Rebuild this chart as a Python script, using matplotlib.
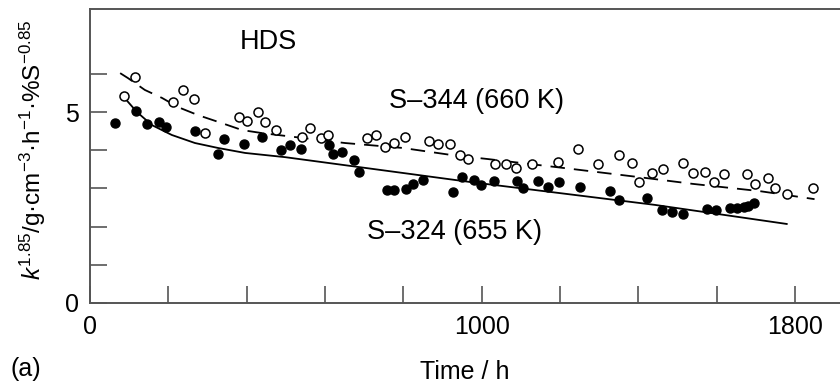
import matplotlib
matplotlib.use("Agg")
import matplotlib.pyplot as plt

plt.rcParams['font.family'] = ['Liberation Sans', 'DejaVu Sans']
plt.rcParams['mathtext.fontset'] = 'custom'
plt.rcParams['mathtext.rm'] = 'Liberation Sans'
plt.rcParams['mathtext.it'] = 'Liberation Sans:italic'

# S-324 (655 K), filled circles
s324_time = [64, 117, 146, 176, 194, 268, 327, 342, 393, 439, 488, 511, 539,
             610, 620, 643, 674, 687, 758, 776, 807, 825, 850, 927, 950, 980,
             998, 1031, 1090, 1105, 1144, 1169, 1197, 1251, 1328, 1351, 1422,
             1460, 1486, 1514, 1575, 1598, 1634, 1652, 1670, 1680, 1695]
s324_k = [4.71, 5.03, 4.69, 4.74, 4.61, 4.50, 3.90, 4.29, 4.16, 4.35, 4.01,
          4.14, 4.03, 4.14, 3.90, 3.95, 3.74, 3.43, 2.96, 2.96, 2.98, 3.12,
          3.22, 2.91, 3.30, 3.22, 3.09, 3.19, 3.19, 3.01, 3.19, 3.04, 3.17,
          3.04, 2.93, 2.70, 2.75, 2.43, 2.38, 2.33, 2.46, 2.43, 2.49, 2.49,
          2.51, 2.54, 2.62]

# S-344 (660 K), open circles
s344_time = [87, 115, 212, 237, 266, 294, 380, 401, 429, 447, 475, 541, 562,
             590, 608, 707, 730, 753, 776, 804, 865, 888, 919, 945, 965, 1034,
             1062, 1088, 1128, 1195, 1246, 1297, 1351, 1384, 1402, 1435, 1463,
             1514, 1539, 1570, 1593, 1619, 1677, 1698, 1731, 1749, 1779, 1846]
s344_k = [5.42, 5.92, 5.26, 5.58, 5.34, 4.45, 4.87, 4.76, 5.00, 4.74, 4.53,
          4.35, 4.58, 4.32, 4.40, 4.32, 4.40, 4.08, 4.19, 4.35, 4.24, 4.16,
          4.16, 3.87, 3.77, 3.64, 3.64, 3.53, 3.64, 3.69, 4.03, 3.64, 3.87,
          3.66, 3.17, 3.40, 3.51, 3.66, 3.40, 3.43, 3.17, 3.38, 3.38, 3.12,
          3.27, 3.01, 2.85, 3.01]

# fitted curves
fit324_time = [84, 120, 158, 209, 268, 327, 396, 498, 970, 1442, 1779]
fit324_k = [5.42, 5.00, 4.66, 4.40, 4.19, 4.06, 3.93, 3.82, 3.17, 2.57, 2.07]

fit344_time = [77, 97, 140, 184, 225, 276, 337, 388, 439, 651, 799, 927,
               1016, 1231, 1399, 1539, 1710, 1850]
fit344_k = [6.02, 5.89, 5.58, 5.37, 5.13, 4.92, 4.71, 4.53, 4.45, 4.19, 4.06,
            3.87, 3.77, 3.51, 3.30, 3.12, 2.93, 2.72]

x_ticks = [0, 200, 400, 600, 800, 1000, 1200, 1400, 1600, 1800]
x_labels = ['0', '', '', '', '', '1000', '', '', '', '1800']
y_ticks = [0, 1, 2, 3, 4, 5, 6]
y_labels = ['0', '', '', '', '', '5', '']

AXIS_COLOR = '#555555'
FS = 18
FS_NOTE = 19.5


def main():
    fig = plt.figure(figsize=(8.4, 3.85), dpi=100)
    ax = fig.add_axes([90 / 840, 82 / 385, 750 / 840, 294 / 385])

    ax.plot(fit324_time, fit324_k, color='black', lw=1.3)
    ax.plot(fit344_time, fit344_k, color='black', lw=1.3, dashes=(8, 5))
    ax.plot(s324_time, s324_k, 'o', ms=6.5, color='black')
    ax.plot(s344_time, s344_k, 'o', ms=6.5, mfc='white', mec='black', mew=1.1)

    ax.set_xlim(0, 1915)
    ax.set_ylim(0, 7.7)
    ax.set_xticks(x_ticks)
    ax.set_xticklabels(x_labels)
    ax.set_yticks(y_ticks)
    ax.set_yticklabels(y_labels)
    ax.tick_params(direction='in', length=12, width=1.2, color=AXIS_COLOR,
                   labelsize=FS)
    ax.tick_params(axis='x', pad=9)
    ax.tick_params(axis='y', pad=8)

    for side in ['left', 'bottom', 'top']:
        ax.spines[side].set_color(AXIS_COLOR)
        ax.spines[side].set_linewidth(1.4)
    ax.spines['right'].set_visible(False)

    ax.text(383, 6.83, 'HDS', fontsize=FS_NOTE, ha='left', va='center')
    ax.text(763, 5.29, 'S–344 (660 K)', fontsize=FS_NOTE, ha='left', va='center')
    ax.text(707, 1.86, 'S–324 (655 K)', fontsize=FS_NOTE, ha='left', va='center')

    ax.set_xlabel('Time / h', fontsize=FS, labelpad=15)
    ax.set_ylabel(r'$k^{1.85}$/g·cm$^{-3}$·h$^{-1}$·%S$^{-0.85}$', fontsize=17.5)
    ax.yaxis.set_label_coords(-0.056, 0.52)

    fig.text(10 / 840, 4 / 385, '(a)', fontsize=FS, ha='left', va='bottom')

    fig.savefig('out.png', dpi=100)


if __name__ == '__main__':
    main()
